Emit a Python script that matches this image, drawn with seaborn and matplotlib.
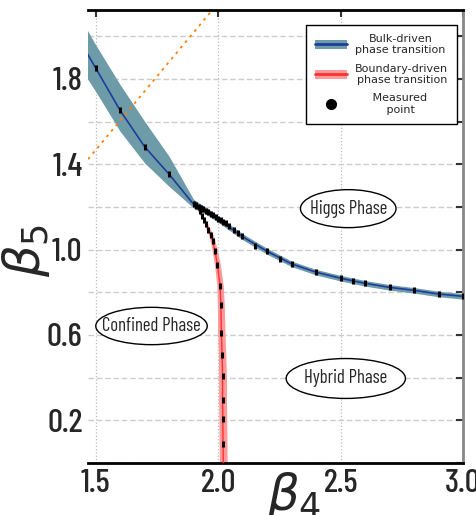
import matplotlib
matplotlib.use('Agg')
import matplotlib.pyplot as plt
import seaborn as sns
from matplotlib import font_manager
from matplotlib.lines import Line2D
from matplotlib.patches import Patch, Ellipse
from matplotlib.legend_handler import HandlerTuple

# bulk-driven transition line (with error band)
bulk_b4 = [1.45, 1.5, 1.6, 1.7, 1.8, 1.9, 1.95, 2.0, 2.1, 2.2, 2.3, 2.4, 2.5, 2.6, 2.7, 2.8, 2.9, 3.0, 3.05]
bulk_b5 = [1.95, 1.851, 1.652, 1.482, 1.353, 1.212, 1.181, 1.143, 1.060, 0.992, 0.933, 0.894, 0.866, 0.842,
           0.823, 0.809, 0.792, 0.781, 0.776]
bulk_lo = [1.83, 1.741, 1.554, 1.406, 1.296, 1.195, 1.166, 1.128, 1.046, 0.978, 0.920, 0.881, 0.853, 0.829,
           0.810, 0.796, 0.779, 0.768, 0.763]
bulk_hi = [2.06, 1.96, 1.773, 1.601, 1.437, 1.235, 1.198, 1.158, 1.074, 1.006, 0.946, 0.907, 0.879, 0.855,
           0.836, 0.822, 0.805, 0.794, 0.789]

# boundary-driven transition line (with error band in beta4)
bnd_b5 = [1.205, 1.179, 1.159, 1.141, 1.120, 1.094, 1.070, 1.039, 0.992, 0.930, 0.829, 0.742, 0.610, 0.508,
          0.407, 0.294, 0.207, 0.091, 0.0]
bnd_b4 = [1.910, 1.924, 1.933, 1.943, 1.951, 1.960, 1.970, 1.978, 1.987, 1.997, 2.008, 2.011, 2.013, 2.016,
          2.018, 2.018, 2.019, 2.020, 2.021]
bnd_err = [0.003, 0.004, 0.005, 0.006, 0.007, 0.008, 0.009, 0.010, 0.011, 0.012, 0.013, 0.014, 0.015, 0.015,
           0.016, 0.016, 0.016, 0.016, 0.016]

# measured points
pts_bulk_b4 = [1.5, 1.6, 1.7, 1.8, 1.9, 1.91, 1.92, 1.93, 1.94, 1.95, 1.96, 1.97, 1.98, 1.99, 2.0, 2.01, 2.02,
               2.03, 2.045, 2.063, 2.079, 2.097, 2.151, 2.199, 2.251, 2.301, 2.401, 2.502, 2.551, 2.601, 2.700,
               2.801, 2.901, 3.0]
pts_bulk_b5 = [1.851, 1.652, 1.482, 1.353, 1.212, 1.208, 1.202, 1.196, 1.189, 1.182, 1.176, 1.169, 1.161, 1.153,
               1.145, 1.138, 1.131, 1.123, 1.109, 1.094, 1.078, 1.062, 1.019, 0.992, 0.958, 0.933, 0.894, 0.866,
               0.852, 0.842, 0.823, 0.809, 0.792, 0.781]
pts_bnd_b4 = bnd_b4[:-1]
pts_bnd_b5 = bnd_b5[:-1]

# orange dotted guide line
guide_b4 = [1.45, 2.0]
guide_b5 = [1.398, 2.156]

# phase labels: text, centre (b4, b5), ellipse width/height in data units
phase_names = ['Higgs Phase', 'Confined Phase', 'Hybrid Phase']
phase_b4 = [2.531, 1.728, 2.521]
phase_b5 = [1.192, 0.642, 0.396]
phase_w = [0.39, 0.455, 0.487]
phase_h = [0.178, 0.175, 0.187]

y_ticks = [0.0, 0.2, 0.4, 0.6, 0.8, 1.0, 1.2, 1.4, 1.6, 1.8, 2.0]
y_labels = ['', '0.2', '', '0.6', '', '1.0', '', '1.4', '', '1.8', '']
x_ticks = [1.5, 2.0, 2.5, 3.0]
x_labels = ['1.5', '2.0', '2.5', '3.0']

sns.set_style('white')
plt.rcParams['mathtext.fontset'] = 'dejavusans'

# narrow font for tick labels and phase names
names = {f.name for f in font_manager.fontManager.ttflist}
narrow = 'DejaVu Sans'
for cand in ['Barlow Condensed', 'Archivo Narrow', 'DejaVu Sans Condensed']:
    if cand in names:
        narrow = cand
        break
narrow_fp = font_manager.FontProperties(family=narrow, stretch='condensed', weight='medium')

fig = plt.figure(figsize=(4.76, 5.15), dpi=100)
ax = fig.add_axes([0.185, 0.101, 0.788, 0.880])

band_blue = '#6d9ca8'
line_blue = '#1f3c9c'
band_red = '#ff9a9a'

ax.fill_between(bulk_b4, bulk_lo, bulk_hi, color=band_blue, lw=0, zorder=2)
sns.lineplot(x=bulk_b4, y=bulk_b5, color=line_blue, lw=1.2, ax=ax, sort=False, estimator=None, zorder=3)

bnd_left = [b - e for b, e in zip(bnd_b4, bnd_err)]
bnd_right = [b + e for b, e in zip(bnd_b4, bnd_err)]
ax.fill_betweenx(bnd_b5, bnd_left, bnd_right, color=band_red, lw=0, zorder=2.5)
sns.lineplot(x=bnd_b4, y=bnd_b5, color='#ff3030', lw=1.0, ax=ax, sort=False, estimator=None, zorder=3)

ax.plot(guide_b4, guide_b5, color='#ff7f0e', lw=1.3, ls=(0, (1.5, 2.5)), zorder=2)

ax.plot(pts_bulk_b4, pts_bulk_b5, ls='none', marker='|', ms=4, mew=2.2, color='black', zorder=4)
ax.plot(pts_bnd_b4, pts_bnd_b5, ls='none', marker='|', ms=4, mew=2.2, color='black', zorder=4)

ax.set_xlim(1.469, 3.0)
ax.set_ylim(0.0, 2.124)
ax.set_xticks(x_ticks)
ax.set_xticklabels(x_labels, fontproperties=narrow_fp, fontsize=24)
ax.set_yticks(y_ticks)
ax.set_yticklabels(y_labels, fontproperties=narrow_fp, fontsize=24)
ax.tick_params(direction='in', length=5, width=1.5, color='#333333', top=True, right=True, pad=4)

ax.xaxis.grid(True, color='#bbbbbb', ls=':', lw=0.9)
ax.yaxis.grid(True, color='#cccccc', ls=(0, (4, 2)), lw=1.0)

for side in ['top', 'bottom']:
    ax.spines[side].set_color('black')
    ax.spines[side].set_linewidth(2)
ax.spines['right'].set_color('#888888')
ax.spines['right'].set_linewidth(2)
ax.spines['left'].set_visible(False)

ax.set_xlabel(r'$\beta_4$', fontsize=36)
ax.set_ylabel(r'$\beta_5$', fontsize=36)
ax.xaxis.set_label_coords(0.55, -0.015)
ax.yaxis.set_label_coords(-0.095, 0.47)

phase_fp = font_manager.FontProperties(family=narrow, stretch='condensed')
for name, cx, cy, w, h in zip(phase_names, phase_b4, phase_b5, phase_w, phase_h):
    ax.add_patch(Ellipse((cx, cy), w, h, fc='white', ec='black', lw=1, zorder=5))
    ax.text(cx, cy, name, fontproperties=phase_fp, fontsize=13.5, ha='center', va='center', zorder=6)

bulk_h = (Patch(facecolor=band_blue, edgecolor='none'), Line2D([], [], color=line_blue, lw=2))
bnd_h = (Patch(facecolor=band_red, edgecolor='none'), Line2D([], [], color='#ff3030', lw=2))
pt_h = Line2D([], [], ls='none', marker='o', ms=7, color='black')
leg = ax.legend([bulk_h, bnd_h, pt_h],
                ['Bulk-driven\nphase transition', 'Boundary-driven\nphase transition', '     Measured\n         point'],
                handler_map={tuple: HandlerTuple(ndivide=1, pad=0)},
                loc='upper right', bbox_to_anchor=(0.984, 0.967), borderaxespad=0, fontsize=8, frameon=True,
                fancybox=False, edgecolor='black', framealpha=1, handlelength=2.9, handleheight=0.9,
                labelspacing=0.75, borderpad=0.8, handletextpad=0.7)
leg.get_frame().set_linewidth(1)
leg.set_zorder(7)
for t in leg.get_texts()[:2]:
    t.set_multialignment('center')

plt.savefig('out.png', dpi=100)
